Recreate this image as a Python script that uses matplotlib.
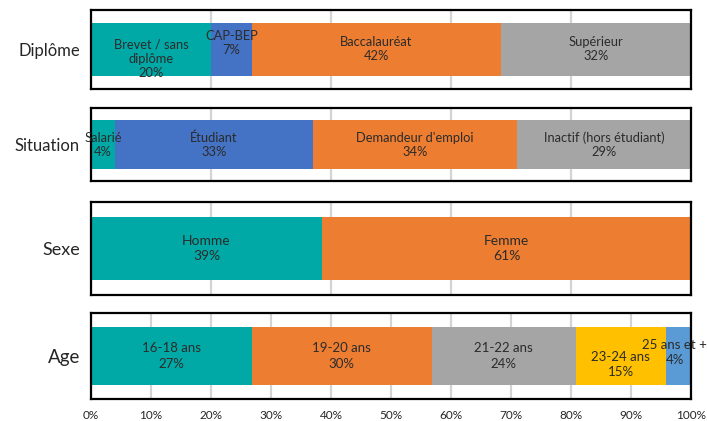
import numpy as np
import matplotlib.pyplot as plt

plt.rcParams['font.family'] = ['Lato', 'DejaVu Sans']

# données (largeurs en %, libellés affichés)
diplome_cat = ["Brevet / sans\ndiplôme", "CAP-BEP", "Baccalauréat", "Supérieur"]
diplome_val = [20.0, 6.8, 41.5, 31.7]
diplome_lab = ["20%", "7%", "42%", "32%"]

situation_cat = ["Salarié", "Étudiant", "Demandeur d'emploi", "Inactif (hors étudiant)"]
situation_val = [4, 33, 34, 29]
situation_lab = ["4%", "33%", "34%", "29%"]

sexe_cat = ["Homme", "Femme"]
sexe_val = [38.5, 61.5]
sexe_lab = ["39%", "61%"]

age_cat = ["16-18 ans", "19-20 ans", "21-22 ans", "23-24 ans", "25 ans et +"]
age_val = [26.8, 30.0, 24.0, 15.0, 4.2]
age_lab = ["27%", "30%", "24%", "15%", "4%"]

teal = "#00A9A5"
blue = "#4472C4"
orange = "#ED7D31"
gray = "#A5A5A5"
yellow = "#FFC000"
lblue = "#5B9BD5"

# nom, cats, valeurs, libellés, couleurs, taille texte, taille nom, pas grille, interligne, décalages y, x
rows = [
    ("Diplôme", diplome_cat, diplome_val, diplome_lab, [teal, blue, orange, gray], 9.3, 12, 20, 1.2,
     [-0.12, 0.08, 0, 0], [0, 0, 0, 0]),
    ("Situation", situation_cat, situation_val, situation_lab, [teal, blue, orange, gray], 9.3, 12, 20, 1.2,
     [0, 0, 0, 0], [0, 0, 0, 0]),
    ("Sexe", sexe_cat, sexe_val, sexe_lab, [teal, orange], 10, 13, 20, 1.35, [0, 0], [0, 0]),
    ("Age", age_cat, age_val, age_lab, [teal, orange, gray, yellow, lblue], 9.5, 13.5, 10, 1.35,
     [0, 0, 0, -0.1, 0.04], [0, 0, 0, 0, -0.6]),
]

# position des cadres (px depuis le haut)
frames = [(10, 89), (108, 181), (202, 295), (313, 399)]
W, H = 707, 421

fig = plt.figure(figsize=(W / 100, H / 100), dpi=100)
axes = []
for (top, bot), row in zip(frames, rows):
    name, cats, vals, labs, cols, fs, yfs, step, lsp, dy, dx = row
    ax = fig.add_axes([91 / W, 1 - bot / H, 600 / W, (bot - top) / H])
    left = 0
    for c, v, l, col, d, e in zip(cats, vals, labs, cols, dy, dx):
        ax.barh(0, v, left=left, height=0.67, color=col, zorder=2)
        ax.text(left + v / 2 + e, d, c + "\n" + l, ha="center", va="center",
                fontsize=fs, color="#2b2b2b", linespacing=lsp, zorder=3,
                clip_on=False)
        left += v
    ax.set_xlim(0, 100)
    ax.set_ylim(-0.5, 0.5)
    ax.set_xticks(np.arange(0, 101, step))
    ax.grid(axis="x", color="#D4D4D4", linewidth=1.6, zorder=0)
    ax.set_yticks([0])
    ax.set_yticklabels([name], fontsize=yfs, color="#262626")
    ax.tick_params(length=0, pad=8)
    for s in ax.spines.values():
        s.set_linewidth(1.6)
        s.set_color("black")
    ax.tick_params(axis="x", labelbottom=False)
    axes.append(ax)

ax = axes[-1]
ax.tick_params(axis="x", labelbottom=True, labelsize=8.5, labelcolor="#262626", pad=8)
ax.set_xticklabels([f"{t}%" for t in range(0, 101, 10)])

plt.savefig("out.png", dpi=100)
